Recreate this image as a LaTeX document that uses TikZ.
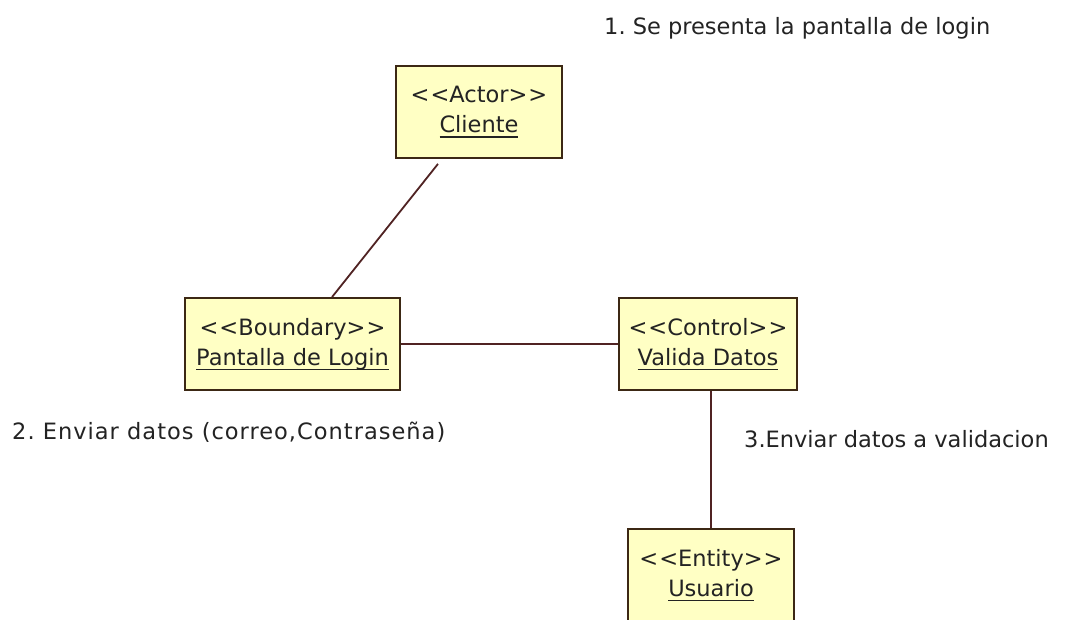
\documentclass[tikz,border=0pt]{standalone}
\usepackage{fontspec}
\setmainfont{DejaVu Sans}
\usetikzlibrary{calc}
\frenchspacing

\definecolor{boxfill}{RGB}{255,255,196}
\definecolor{boxline}{RGB}{60,40,20}
\definecolor{linkline}{RGB}{80,35,35}
\definecolor{labeltext}{RGB}{35,35,35}

% underlined object name, rule set a little below the baseline
\newcommand\objname[1]{\setbox0\hbox{#1}\rlap{\rule[-5pt]{\wd0}{1.5pt}}\box0}
% stereotype guillemets written as two separate angle brackets
\newcommand\stereo[1]{<\kern1pt<#1>\kern1pt>}

\tikzset{
  umlobj/.style={draw=boxline, line width=1.8pt, fill=boxfill, text=labeltext,
    inner sep=0pt, align=center, font=\fontsize{22.5}{30}\selectfont},
  link/.style={draw=linkline, line width=1.8pt},
  msg/.style={anchor=base west, inner sep=0pt, text=labeltext,
    font=\fontsize{22.5}{30}\selectfont}
}

\begin{document}
\begin{tikzpicture}[x=1pt, y=-1pt]
  \path[use as bounding box] (0,0) rectangle (1065,620);
  \clip (0,0) rectangle (1065,620);
  \fill[white] (0,0) rectangle (1065,620);

  % objects
  \node[umlobj, minimum width=166pt, minimum height=92pt] (actor) at (479,112)
    {\stereo{Actor}\\\objname{Cliente}};
  \node[umlobj, minimum width=215pt, minimum height=92pt] (boundary) at (292.5,344)
    {\stereo{Boundary}\\\objname{Pantalla de Login}};
  \node[umlobj, minimum width=178pt, minimum height=92pt] (control) at (708,344)
    {\stereo{Control}\\\objname{Valida Datos}};
  \node[umlobj, minimum width=166pt, minimum height=92pt] (entity) at (711,575)
    {\stereo{Entity}\\\objname{Usuario}};

  % links
  \draw[link] ([shift={(-41,5)}]actor.south) -- ([xshift=39.5pt]boundary.north);
  \draw[link] (boundary.east) -- (control.west);
  \draw[link] (entity.north |- control.south) -- (entity.north);

  % messages
  \node[msg] (m1) at (604,35) {1. Se presenta la pantalla de login};
  \node[msg, font=\fontsize{22.5}{30}\selectfont\addfontfeature{LetterSpace=4.5}] (m2) at (12,439)
    {2. Enviar datos (correo,Contraseña)};
  \node[msg] (m3) at (744,447) {3.Enviar datos a validacion};
\end{tikzpicture}
\end{document}
